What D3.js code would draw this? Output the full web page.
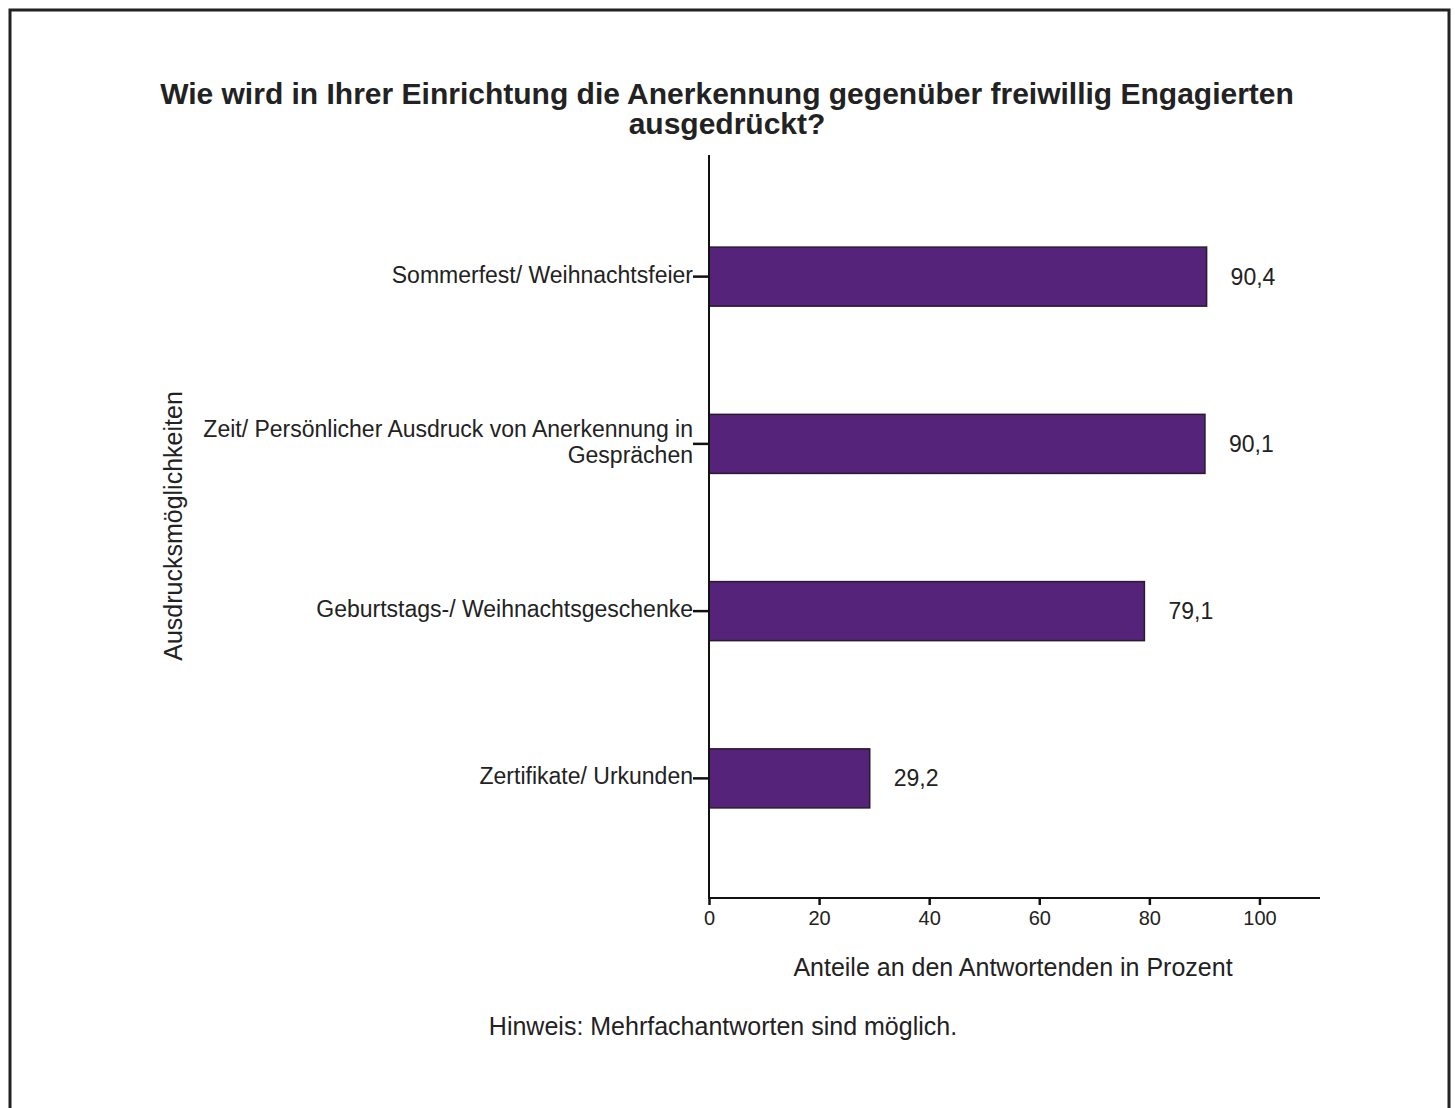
<!DOCTYPE html>
<html>
<head>
<meta charset="utf-8">
<script src="https://cdn.jsdelivr.net/npm/d3@7"></script>
<style>
  html, body { margin: 0; padding: 0; background: #fff; }
  svg { display: block; font-family: "Liberation Sans", Arial, sans-serif; }
</style>
</head>
<body>
<svg id="chart" width="1455" height="1108"></svg>
<script>
const titleLines = ["Wie wird in Ihrer Einrichtung die Anerkennung gegenüber freiwillig Engagierten", "ausgedrückt?"];
const categories = [
  "Sommerfest/ Weihnachtsfeier",
  "Zeit/ Persönlicher Ausdruck von Anerkennung in Gesprächen",
  "Geburtstags-/ Weihnachtsgeschenke",
  "Zertifikate/ Urkunden"
];
const categoryLines = [
  ["Sommerfest/ Weihnachtsfeier"],
  ["Zeit/ Persönlicher Ausdruck von Anerkennung in", "Gesprächen"],
  ["Geburtstags-/ Weihnachtsgeschenke"],
  ["Zertifikate/ Urkunden"]
];
const values = [90.4, 90.1, 79.1, 29.2];
const valueLabels = ["90,4", "90,1", "79,1", "29,2"];
const xTicks = [0, 20, 40, 60, 80, 100];
const xTitle = "Anteile an den Antwortenden in Prozent";
const yTitle = "Ausdrucksmöglichkeiten";
const note = "Hinweis: Mehrfachantworten sind möglich.";

const svg = d3.select("#chart");
const textColor = "#222";

// Outer frame
svg.append("rect")
  .attr("x", 10).attr("y", 10)
  .attr("width", 1439).attr("height", 1110)
  .attr("fill", "none").attr("stroke", "#222").attr("stroke-width", 3);

// Title (two separate lines)
svg.append("g").selectAll("text").data(titleLines).join("text")
  .attr("x", 727).attr("y", (d, i) => 104 + i * 30)
  .attr("text-anchor", "middle")
  .attr("font-size", 30).attr("font-weight", "bold").attr("fill", textColor)
  .text(d => d);

const x0 = 709, axisY = 898, axisTop = 155;
const x = d3.scaleLinear().domain([0, 111]).range([x0, 1320]);
const y = d3.scaleBand().domain(categories).range([193, 862])
  .paddingInner(0.647).paddingOuter(0.3235);

// Bars
svg.append("g").selectAll("rect").data(values).join("rect")
  .attr("x", x(0))
  .attr("y", (d, i) => y(categories[i]))
  .attr("width", d => x(d) - x(0))
  .attr("height", y.bandwidth())
  .attr("fill", "#55237A")
  .attr("stroke", "#2a1b2c").attr("stroke-width", 1.5);

// Value labels
svg.append("g").selectAll("text").data(values).join("text")
  .attr("x", d => x(d) + 24)
  .attr("y", (d, i) => y(categories[i]) + y.bandwidth() / 2 + 2)
  .attr("dominant-baseline", "middle")
  .attr("font-size", 23).attr("fill", textColor)
  .text((d, i) => valueLabels[i]);

// Y axis line
svg.append("line")
  .attr("x1", x0).attr("x2", x0).attr("y1", axisTop).attr("y2", axisY + 1)
  .attr("stroke", "#111").attr("stroke-width", 2);

// Y ticks + labels
const yg = svg.append("g");
categories.forEach((c, i) => {
  const cy = y(c) + y.bandwidth() / 2;
  yg.append("line").attr("x1", x0 - 16).attr("x2", x0).attr("y1", cy).attr("y2", cy)
    .attr("stroke", "#111").attr("stroke-width", 2.5);
  const lines = categoryLines[i];
  const lh = 26;
  const t = yg.append("text")
    .attr("text-anchor", "end").attr("font-size", 23).attr("fill", textColor);
  lines.forEach((ln, j) => {
    t.append("tspan").attr("x", x0 - 16)
      .attr("y", cy + (j - (lines.length - 1) / 2) * lh)
      .attr("dominant-baseline", "middle")
      .text(ln);
  });
});

// X axis
const xAxis = d3.axisBottom(x).tickValues(xTicks).tickSize(7).tickPadding(6).tickFormat(d3.format("d"));
const xg = svg.append("g").attr("transform", `translate(0,${axisY})`).call(xAxis);
xg.select(".domain").attr("stroke", "#111").attr("stroke-width", 2).attr("d", `M${x0},0H1320`);
xg.selectAll(".tick line").attr("stroke", "#111").attr("stroke-width", 2.5);
xg.selectAll(".tick text").attr("font-size", 20).attr("fill", textColor)
  .attr("font-family", '"Liberation Sans", Arial, sans-serif');

// Axis titles
svg.append("text")
  .attr("x", 1013).attr("y", 976)
  .attr("text-anchor", "middle").attr("font-size", 25).attr("fill", textColor)
  .text(xTitle);

svg.append("text")
  .attr("transform", "translate(182,526) rotate(-90)")
  .attr("text-anchor", "middle").attr("font-size", 25).attr("fill", textColor)
  .text(yTitle);

// Note
svg.append("text")
  .attr("x", 723).attr("y", 1035)
  .attr("text-anchor", "middle").attr("font-size", 25).attr("fill", textColor)
  .text(note);
</script>
</body>
</html>
